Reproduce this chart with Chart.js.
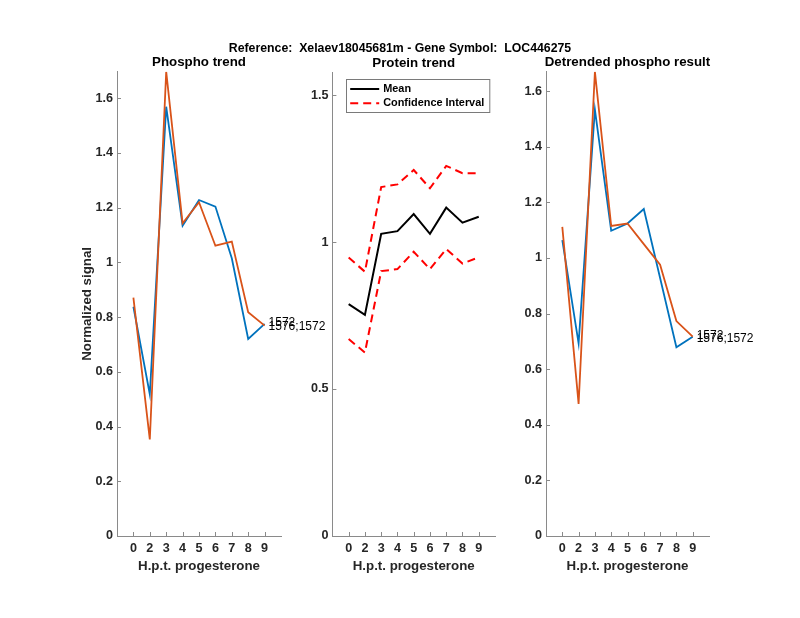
<!DOCTYPE html>
<html>
<head>
<meta charset="utf-8">
<script src="https://cdn.jsdelivr.net/npm/chart.js@4"></script>
<style>
  html, body { margin: 0; padding: 0; background: #fff; }
  #wrap { position: relative; width: 800px; height: 618px; overflow: hidden; }
  #wrap canvas { position: absolute; left: 0; top: 0; }
  #suptitle {
    position: absolute; left: 0; top: 41px; width: 800px; text-align: center;
    font: bold 12.3px "Liberation Sans", Arial, sans-serif; white-space: pre; color: #000;
  }
</style>
</head>
<body>
<div id="wrap">
  <canvas id="c1" width="800" height="618"></canvas>
  <canvas id="c2" width="800" height="618"></canvas>
  <canvas id="c3" width="800" height="618"></canvas>
  <div id="suptitle">Reference:  Xelaev18045681m - Gene Symbol:  LOC446275</div>
</div>
<script>
// time points (h.p.t. progesterone), plotted at positions 1..9
const hptLabels = ['0', '2', '3', '4', '5', '6', '7', '8', '9'];

// Phospho trend
const phosphoBlue   = [0.838, 0.518, 1.569, 1.134, 1.228, 1.204, 1.015, 0.720, 0.775];
const phosphoOrange = [0.871, 0.353, 1.697, 1.143, 1.220, 1.061, 1.076, 0.818, 0.769];

// Protein trend
const proteinMean  = [0.789, 0.752, 1.028, 1.037, 1.095, 1.028, 1.117, 1.066, 1.086];
const proteinUpper = [0.947, 0.899, 1.187, 1.196, 1.245, 1.183, 1.259, 1.234, 1.234];
const proteinLower = [0.670, 0.624, 0.901, 0.908, 0.967, 0.908, 0.976, 0.927, 0.948];
const proteinTop = 1.576;

// Detrended phospho result
const detrendBlue   = [1.064, 0.693, 1.534, 1.098, 1.124, 1.176, 0.928, 0.679, 0.717];
const detrendOrange = [1.112, 0.475, 1.670, 1.115, 1.124, 1.050, 0.976, 0.773, 0.717];

const blueName = '1576;1572';
const orangeName = '1572';

const FONT = '"Liberation Sans", Arial, Helvetica, sans-serif';
const BLUE = '#0072BD', ORANGE = '#D95319';
const AXIS = '#8a8a8a', TXT = '#262626';

Chart.defaults.font.family = FONT;
Chart.defaults.animation = false;

const pts = arr => arr.map((v, i) => ({ x: i + 1, y: v }));

// inward tick marks, matlab style
const innerTicks = {
  id: 'innerTicks',
  afterDatasetsDraw(chart) {
    const { ctx, chartArea: a, scales: { x, y } } = chart;
    ctx.save();
    ctx.strokeStyle = AXIS;
    ctx.lineWidth = 1;
    ctx.beginPath();
    x.ticks.forEach(t => {
      const px = Math.round(x.getPixelForValue(t.value)) + 0.5;
      ctx.moveTo(px, a.bottom); ctx.lineTo(px, a.bottom - 4);
    });
    y.ticks.forEach(t => {
      const py = Math.round(y.getPixelForValue(t.value)) + 0.5;
      ctx.moveTo(a.left, py); ctx.lineTo(a.left + 4, py);
    });
    ctx.stroke();
    ctx.restore();
  }
};

const panelTitle = {
  id: 'panelTitle',
  afterDraw(chart, args, opts) {
    if (!opts.text) return;
    const { ctx, chartArea: a } = chart;
    ctx.save();
    ctx.font = 'bold 13.3px ' + FONT;
    ctx.fillStyle = '#000';
    ctx.textAlign = 'center';
    ctx.textBaseline = 'middle';
    ctx.fillText(opts.text, (a.left + a.right) / 2, a.top - 9.5);
    ctx.restore();
  }
};

// text next to the last point of a line
const endLabels = {
  id: 'endLabels',
  afterDraw(chart, args, opts) {
    if (!opts.items) return;
    const { ctx } = chart;
    ctx.save();
    ctx.font = '12px ' + FONT;
    ctx.fillStyle = '#000';
    ctx.textAlign = 'left';
    ctx.textBaseline = 'middle';
    opts.items.forEach(it => {
      const meta = chart.getDatasetMeta(it.ds);
      const p = meta.data[meta.data.length - 1];
      ctx.fillText(it.text, p.x + 4, p.y + it.dy);
    });
    ctx.restore();
  }
};

const insetLegend = {
  id: 'insetLegend',
  afterDraw(chart, args, opts) {
    if (!opts.entries) return;
    const { ctx, chartArea: a } = chart;
    const x0 = a.left + opts.left, y0 = a.top + opts.top;
    ctx.save();
    ctx.fillStyle = '#fff';
    ctx.fillRect(x0, y0, opts.width, opts.height);
    ctx.strokeStyle = '#7a7a7a';
    ctx.lineWidth = 1;
    ctx.strokeRect(Math.round(x0) + 0.5, Math.round(y0) + 0.5, opts.width, opts.height);
    ctx.font = 'bold 10.9px ' + FONT;
    ctx.textBaseline = 'middle';
    opts.entries.forEach((dsIndex, i) => {
      const ds = chart.data.datasets[dsIndex];
      const yy = y0 + 9.7 + i * 14.3;
      ctx.strokeStyle = ds.borderColor;
      ctx.lineWidth = ds.borderWidth;
      ctx.setLineDash(ds.borderDash || []);
      ctx.beginPath();
      ctx.moveTo(x0 + 4.5, yy); ctx.lineTo(x0 + 33.5, yy);
      ctx.stroke();
      ctx.setLineDash([]);
      ctx.fillStyle = '#000';
      ctx.fillText(ds.label, x0 + 37.5, yy);
    });
    ctx.restore();
  }
};

function scalesFor(yMax, yStep, yTitle) {
  return {
    x: {
      type: 'linear', min: 0, max: 10,
      afterBuildTicks: s => { s.ticks = hptLabels.map((_, i) => ({ value: i + 1 })); },
      afterFit: s => { s.height = 45; },
      grid: { display: false, drawTicks: false },
      border: { color: AXIS, width: 1 },
      ticks: {
        autoSkip: false, maxRotation: 0, padding: 5, color: TXT,
        font: { size: 12.6, weight: 'bold' },
        callback: v => hptLabels[v - 1]
      },
      title: {
        display: true, text: 'H.p.t. progesterone', color: TXT,
        font: { size: 13.3, weight: 'bold' }, padding: { top: 0, bottom: 7 }
      }
    },
    y: {
      min: 0, max: yMax,
      afterFit: s => { s.width = 60; },
      grid: { display: false, drawTicks: false },
      border: { color: AXIS, width: 1 },
      ticks: {
        stepSize: yStep, includeBounds: false, padding: 4, color: TXT,
        font: { size: 12.6, weight: 'bold' },
        callback: v => String(+v.toFixed(2))
      },
      title: {
        display: !!yTitle, text: yTitle || '', color: TXT,
        font: { size: 13.3, weight: 'bold' }, padding: { top: 22, bottom: 0 }
      }
    }
  };
}

function line(label, data, color, width, dash, order) {
  return {
    label, data: pts(data), borderColor: color, borderWidth: width,
    borderDash: dash || [], pointRadius: 0, tension: 0, fill: false, order: order || 0
  };
}

function makePanel(id, box, datasets, scales, plugins) {
  return new Chart(document.getElementById(id), {
    type: 'line',
    data: { datasets },
    options: {
      responsive: false,
      layout: { padding: { left: box.left - 60, right: 800 - box.right, top: box.top, bottom: 618 - 536 - 45 } },
      scales,
      plugins: Object.assign({ legend: { display: false }, tooltip: { enabled: false } }, plugins)
    },
    plugins: [innerTicks, panelTitle, endLabels, insetLegend]
  });
}

makePanel('c1', { left: 117, right: 281, top: 71.7 }, [
  line(blueName, phosphoBlue, BLUE, 1.8, null, 1),
  line(orangeName, phosphoOrange, ORANGE, 1.8, null, 0)
], scalesFor(Math.max(...phosphoBlue, ...phosphoOrange), 0.2, 'Normalized signal'), {
  panelTitle: { text: 'Phospho trend' },
  endLabels: { items: [{ ds: 0, text: blueName, dy: 3 }, { ds: 1, text: orangeName, dy: -3 }] }
});

makePanel('c2', { left: 332.4, right: 495, top: 72.7 }, [
  line('Mean', proteinMean, '#000', 2, null, 0),
  line('Confidence Interval', proteinUpper, '#ff0000', 2, [8, 5], 1),
  line('Confidence Interval', proteinLower, '#ff0000', 2, [8, 5], 1)
], scalesFor(proteinTop, 0.5, null), {
  panelTitle: { text: 'Protein trend' },
  insetLegend: { entries: [0, 1], left: 13.3, top: 6.6, width: 143.3, height: 33 }
});

makePanel('c3', { left: 546, right: 709, top: 71.7 }, [
  line(blueName, detrendBlue, BLUE, 1.8, null, 1),
  line(orangeName, detrendOrange, ORANGE, 1.8, null, 0)
], scalesFor(Math.max(...detrendBlue, ...detrendOrange), 0.2, null), {
  panelTitle: { text: 'Detrended phospho result' },
  endLabels: { items: [{ ds: 0, text: blueName, dy: 2 }, { ds: 1, text: orangeName, dy: -1 }] }
});
</script>
</body>
</html>
